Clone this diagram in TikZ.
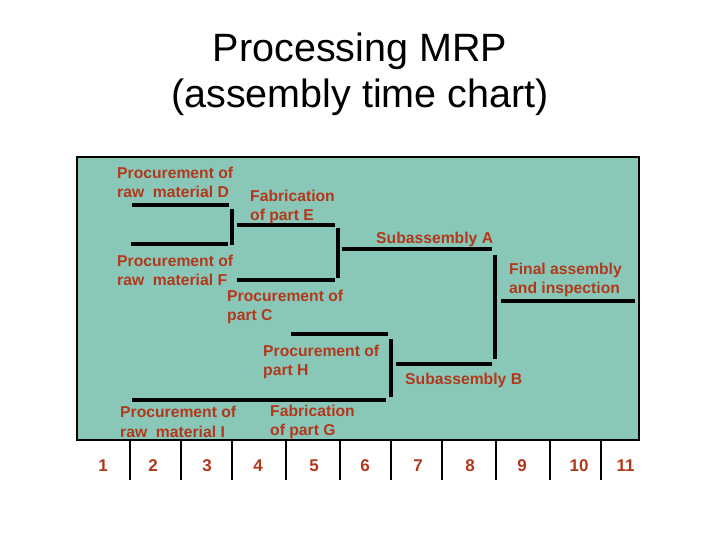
\documentclass[tikz,border=0pt]{standalone}
\usepackage{fontspec}
\setmainfont{Liberation Sans}
\definecolor{panel}{RGB}{137,200,184}
\definecolor{lab}{RGB}{178,56,28}
\begin{document}
\begin{tikzpicture}[x=1pt,y=-1pt,
  lbl/.style={anchor=north west,inner sep=0pt,align=left,text=lab,
    font=\fontsize{15.7}{19.5}\selectfont\bfseries},
  num/.style={anchor=center,inner sep=0pt,text=lab,
    font=\fontsize{17}{19}\selectfont\bfseries},
  bar/.style={line width=4pt,line cap=butt},
  tick/.style={line width=2pt}]
\useasboundingbox (0,0) rectangle (720,540);
\fill[white] (0,0) rectangle (720,540);
% title
\node[anchor=north,inner sep=0pt,align=center,font=\fontsize{39.5}{46}\selectfont] (title) at (360,33) {Processing MRP\\(assembly time chart)};
% panel
\draw[line width=2.5pt,fill=panel] (77,157) rectangle (639,440);
% bars
\draw[bar] (132,205) -- (229,205);
\draw[bar] (131,244) -- (228,244);
\draw[bar] (232,209) -- (232,245);
\draw[bar] (237,225) -- (335,225);
\draw[bar] (237,280) -- (335,280);
\draw[bar] (338,228) -- (338,278);
\draw[bar] (342,249) -- (492,249);
\draw[bar] (495,255) -- (495,359);
\draw[bar] (501,301) -- (635,301);
\draw[bar] (291,334) -- (388,334);
\draw[bar] (132,400) -- (386,400);
\draw[bar] (391,339) -- (391,397);
\draw[bar] (396,364) -- (492,364);
% labels
\node[lbl] (d) at (117,166.5) {Procurement of\\raw\ \ material D};
\node[lbl] (e) at (250,189.5) {Fabrication\\of part E};
\node[lbl] (sa) at (376,231.5) {Subassembly A};
\node[lbl] (f) at (117,254.5) {Procurement of\\raw\ \ material F};
\node[lbl] (c) at (227,289.5) {Procurement of\\part C};
\node[lbl] (fin) at (509,262.5) {Final assembly\\and inspection};
\node[lbl] (h) at (263,344.5) {Procurement of\\part H};
\node[lbl] (sb) at (405,373) {Subassembly B};
\node[lbl] (i) at (120,406) {Procurement of\\raw\ \ material I};
\node[lbl] (g) at (270,404.5) {Fabrication\\of part G};
% ticks
\foreach \x in {130,181,232,286,340,391,442,496,550,601}
  \draw[tick] (\x,441) -- (\x,480);
% numbers
\foreach \n/\x in {1/103,2/153,3/207,4/258,5/314,6/365,7/418,8/470,9/522,10/579,11/625.5}
  \node[num] (n\n) at (\x,466) {\n};
\end{tikzpicture}
\end{document}
